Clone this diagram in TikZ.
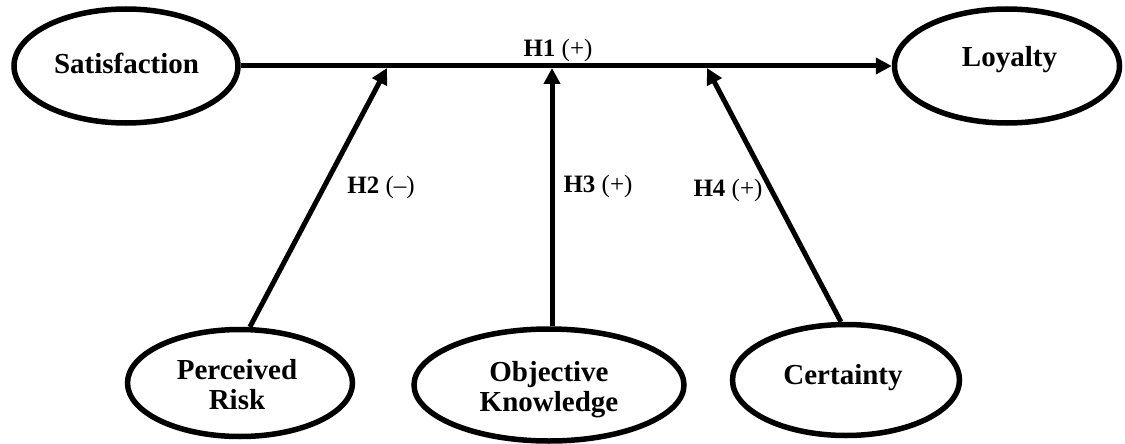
\documentclass[tikz,border=0pt]{standalone}
\usepackage{fontspec}
\setmainfont{Liberation Serif}
\usetikzlibrary{arrows.meta,shapes.geometric}
\tikzset{
  construct/.style={draw=black, line width=5.5pt, ellipse, inner sep=0pt},
  ctext/.style={inner sep=0pt, align=center, font=\fontsize{29}{30}\selectfont\bfseries},
  hlabel/.style={inner sep=0pt, font=\fontsize{25}{26}\selectfont},
  path/.style={draw=black, line width=5pt, -{Triangle[length=16pt,width=16pt]}}
}
\begin{document}
\begin{tikzpicture}[x=1pt,y=-1pt]
\useasboundingbox (0,0) rectangle (1125,444);
% ellipses
\node[construct, minimum width=224pt, minimum height=114pt] (sat) at (126,66) {};
\node[construct, minimum width=225pt, minimum height=114pt] (loy) at (1007,66) {};
\node[construct, minimum width=225pt, minimum height=107pt] (pr) at (240,383) {};
\node[construct, minimum width=270pt, minimum height=112pt] (ok) at (549,385) {};
\node[construct, minimum width=227pt, minimum height=111pt] (ce) at (846,380) {};
% texts
\node[ctext] (satT) at (126.5,63) {Satisfaction};
\node[ctext] (loyT) at (1009.5,60) {Loyalty};
\node[ctext] (prT) at (237,385) {Perceived\\Risk};
\node[ctext] (okT) at (549,390) {Objective\\Knowledge};
\node[ctext] (ceT) at (843,378) {Certainty};
% target points on the main path
\coordinate (h2) at (387,68);
\coordinate (h3) at (552,68);
\coordinate (h4) at (707,68);
% connectors
\draw[path] (sat.east) -- (loy.west);
\draw[path] (pr.80) -- (h2);
\draw[path] (ok.north -| h3) -- (h3);
\draw[path] (ce.95) -- (h4);
% labels
\node[hlabel] (l1) at (558,50) {\textbf{H1} (+)};
\node[hlabel] (l2) at (381,187) {\textbf{H2} (–)};
\node[hlabel] (l3) at (598,186) {\textbf{H3} (+)};
\node[hlabel] (l4) at (728,190) {\textbf{H4} (+)};
\end{tikzpicture}
\end{document}
